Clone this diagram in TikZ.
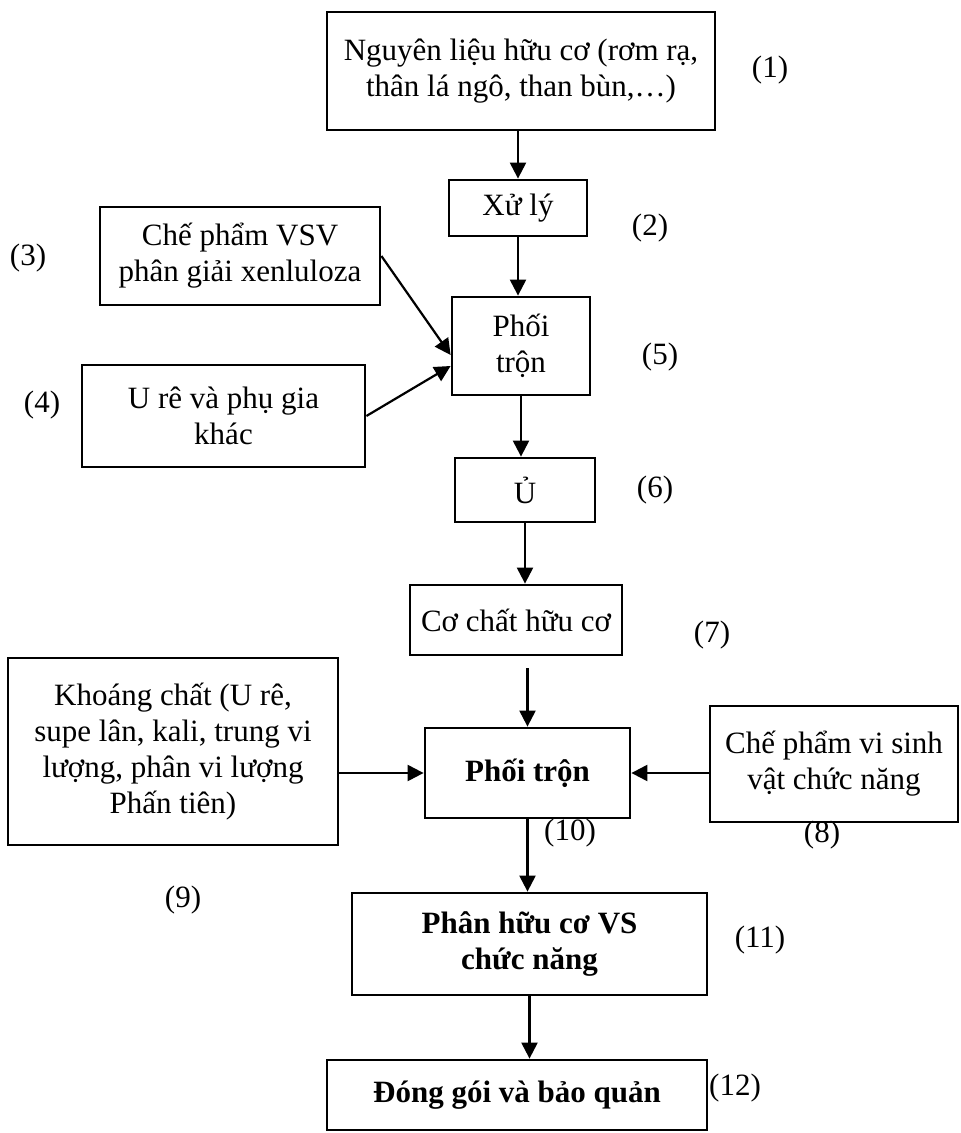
\documentclass[tikz,border=0pt]{standalone}
\usepackage{fontspec}
\setmainfont{Liberation Serif}
\usetikzlibrary{arrows.meta,calc}
\tikzset{
  box/.style={draw, line width=1.4pt, inner sep=0pt, align=center,
    font=\fontsize{15.5}{18}\selectfont},
  bbox/.style={box, font=\fontsize{15.5}{18}\selectfont\bfseries},
  num/.style={inner sep=0pt, font=\fontsize{15.5}{18}\selectfont},
  arr/.style={line width=1.1pt, -{Triangle[length=8pt,width=8pt]}}
}
\begin{document}
\begin{tikzpicture}[x=0.5pt, y=-0.5pt]
\useasboundingbox (0,0) rectangle (960,1133);
% boxes
\node[box, minimum width=194pt, minimum height=59pt] (n1) at (521,71)
  {Nguyên liệu hữu cơ (rơm rạ,\\thân lá ngô, than bùn,…)};
\node[box, minimum width=69pt, minimum height=28pt] (n2) at (518,208) {Xử lý};
\node[box, minimum width=140pt, minimum height=49pt] (n3) at (240,256)
  {Chế phẩm VSV\\phân giải xenluloza};
\node[box, minimum width=69pt, minimum height=49pt] (n5) at (521,346)
  {Phối\\trộn};
\node[box, minimum width=141.5pt, minimum height=51pt] (n4) at (223.5,416)
  {U rê và phụ gia\\khác};
\node[box, minimum width=70pt, minimum height=32pt] (n6) at (525,490) {Ủ};
\node[box, minimum width=106pt, minimum height=35pt] (n7) at (516,620)
  {Cơ chất hữu cơ};
\node[bbox, minimum width=102.5pt, minimum height=45pt] (pt) at (527.5,773)
  {Phối trộn};
\node[box, minimum width=165pt, minimum height=93.5pt] (n9) at (173,751.5)
  {Khoáng chất (U rê,\\supe lân, kali, trung vi\\lượng, phân vi lượng\\Phấn tiên)};
\node[box, minimum width=124pt, minimum height=58pt] (n8) at (834,764)
  {Chế phẩm vi sinh\\vật chức năng};
\node[bbox, minimum width=177.5pt, minimum height=51pt] (n11) at (529.5,944)
  {Phân hữu cơ VS\\chức năng};
\node[bbox, minimum width=190pt, minimum height=35pt] (n12) at (517,1095)
  {Đóng gói và bảo quản};
% step numbers
\node[num] (l1) at (770,70) {(1)};
\node[num] (l2) at (650,228) {(2)};
\node[num] (l3) at (28,258) {(3)};
\node[num] (l4) at (42,405) {(4)};
\node[num] (l5) at (660,357) {(5)};
\node[num] (l6) at (655,490) {(6)};
\node[num] (l7) at (712,635) {(7)};
\node[num] (l8) at (822,835) {(8)};
\node[num] (l9) at (183,900) {(9)};
\node[num] (l10) at (570,833) {(10)};
\node[num] (l11) at (760,940) {(11)};
\node[num] (l12) at (735,1088) {(12)};
% connectors
\draw[arr] (n1.south -| n2.north) -- (n2.north);
\draw[arr] (n2.south) -- (n2.south |- n5.north);
\draw[arr] (n3.east) -- ($(n5.west)+(0,9)$);
\draw[arr] (n4.east) -- ($(n5.west)+(0,20)$);
\draw[arr] (n5.south) -- (n5.south |- n6.north);
\draw[arr] (n6.south) -- (n6.south |- n7.north);
\draw[arr, shorten <=6pt] (n7.south -| pt.north) -- (pt.north);
\draw[arr] (pt.west -| n9.east) -- (pt.west);
\draw[arr] (pt.east -| n8.west) -- (pt.east);
\draw[arr] (pt.south) -- (pt.south |- n11.north);
\draw[arr] (n11.south) -- (n11.south |- n12.north);
\end{tikzpicture}
\end{document}
